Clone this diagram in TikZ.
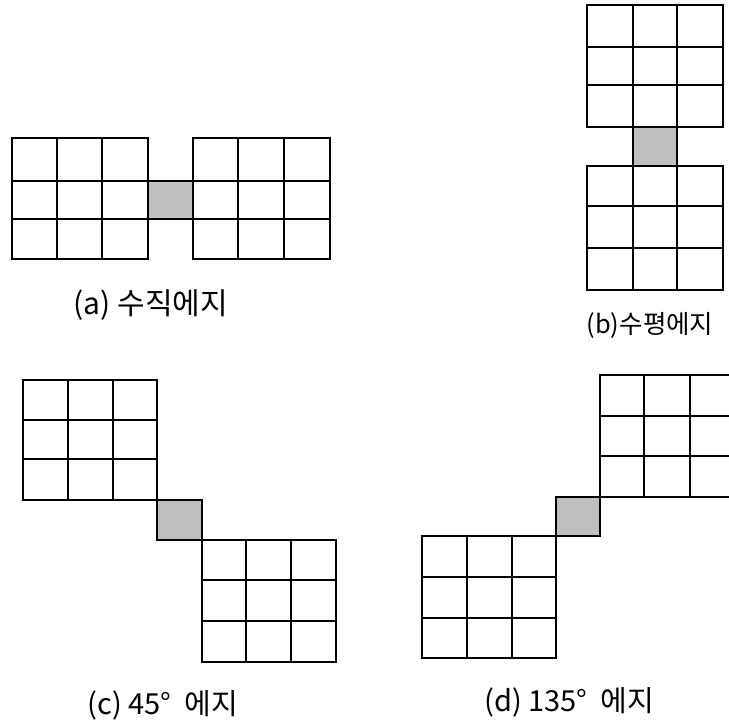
\documentclass[tikz,border=0pt]{standalone}
\usepackage{fontspec}
\newfontfamily\kr{Noto Sans CJK KR}
\newcommand\gridthree[8]{%
  \draw[gridline] (#1,#5) rectangle (#4,#8);
  \draw[gridline] (#2,#5) -- (#2,#8) (#3,#5) -- (#3,#8)
                  (#1,#6) -- (#4,#6) (#1,#7) -- (#4,#7);
}
\tikzset{
  gridline/.style={line width=1.8pt, line join=miter},
  edgecell/.style={fill=black!25, draw, line width=1.8pt},
  captext/.style={anchor=center, inner sep=0pt}
}
\begin{document}
\begin{tikzpicture}[x=1pt,y=-1pt]
\useasboundingbox (0,0) rectangle (729,724);
\clip (0,0) rectangle (729,724);
% (a) vertical edge
\gridthree{12}{57}{102}{148}{138}{181}{219}{259}
\draw[edgecell] (148,181) rectangle (193,219);
\gridthree{193}{238}{284}{330}{138}{181}{219}{259}
\node[captext, font=\kr\fontsize{30}{36}\selectfont] (la) at (151,305) {(a) 수직에지};
% (b) horizontal edge
\gridthree{587}{633}{677}{723}{5}{47}{85}{127}
\draw[edgecell] (633,127) rectangle (677,166);
\gridthree{587}{633}{677}{723}{166}{206}{248}{290}
\node[captext, font=\kr\fontsize{25.5}{30}\selectfont] (lb) at (650,325) {(b)수평에지};
% (c) 45 degree edge
\gridthree{23}{68}{113}{157}{380}{420}{459}{500}
\draw[edgecell] (157,500) rectangle (202,540);
\gridthree{202}{246}{291}{336}{540}{580}{621}{662}
\node[captext, font=\kr\fontsize{29}{34}\selectfont] (lc) at (163,705) {(c) 45°~~에지};
% (d) 135 degree edge
\draw[gridline] (729,375) -- (600,375) -- (600,497) -- (729,497);
\draw[gridline] (644,375) -- (644,497) (690,375) -- (690,497)
                (600,416) -- (729,416) (600,456) -- (729,456);
\draw[edgecell] (556,497) rectangle (600,536);
\gridthree{422}{467}{512}{556}{536}{577}{618}{658}
\node[captext, font=\kr\fontsize{29}{34}\selectfont] (ld) at (569,702) {(d) 135°~~에지};
\end{tikzpicture}
\end{document}
